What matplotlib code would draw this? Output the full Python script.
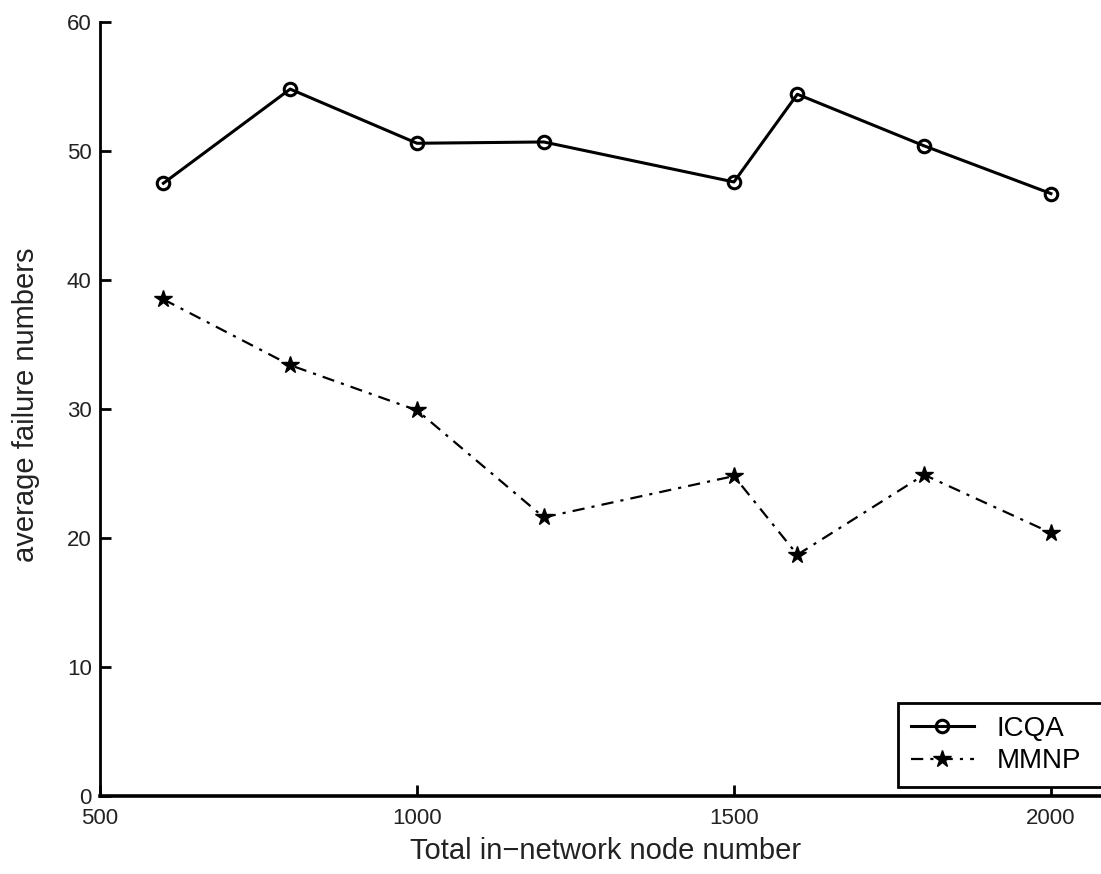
from matplotlib import pyplot as plt

plt.rcParams['font.family'] = ['Liberation Sans', 'DejaVu Sans']

nodes = [600, 800, 1000, 1200, 1500, 1600, 1800, 2000]
icqa = [47.5, 54.8, 50.6, 50.7, 47.6, 54.4, 50.4, 46.7]
mmnp = [38.5, 33.4, 29.9, 21.6, 24.8, 18.7, 24.9, 20.4]

xticks = [500, 1000, 1500, 2000]
yticks = [0, 10, 20, 30, 40, 50, 60]

W, H = 1101, 874
fig = plt.figure(figsize=(W / 100, H / 100), dpi=100)
ax = fig.add_axes([100 / W, 78 / H, 1001 / W, 774 / H])

ax.plot(nodes, icqa, color='black', linewidth=2.2, marker='o', markersize=9,
        markerfacecolor='none', markeredgewidth=2.2, label='ICQA')
ax.plot(nodes, mmnp, color='black', linewidth=1.6, dashes=(5.5, 3.2, 1.4, 3.2),
        marker='*', markersize=13, markerfacecolor='black', label='MMNP')

ax.set_xlim(500, 2079)
ax.set_ylim(0, 60)
ax.set_xticks(xticks)
ax.set_yticks(yticks)
ax.tick_params(direction='in', length=8, width=2, labelsize=16, labelcolor='#222222')
ax.tick_params(axis='x', pad=9)
ax.tick_params(axis='y', pad=6)

ax.spines['right'].set_visible(False)
ax.spines['top'].set_visible(False)
ax.spines['left'].set_linewidth(2.0)
ax.spines['bottom'].set_linewidth(2.6)

fig.text(606 / W, 1 - 851 / H, 'Total in\u2212network node number', fontsize=21,
         ha='center', va='center', color='#222222')
fig.text(26 / W, 1 - 405 / H, 'average failure numbers', fontsize=21,
         ha='center', va='center', rotation=90, color='#222222')

leg = ax.legend(loc='lower left', bbox_to_anchor=(898 / W, 87 / H, 0.2, 81 / H),
                bbox_transform=fig.transFigure, mode='expand', fontsize=20,
                fancybox=False, framealpha=1, edgecolor='black', borderpad=0.45,
                handlelength=2.3, handletextpad=0.8, labelspacing=0.25, borderaxespad=0)
leg.get_frame().set_linewidth(2.0)

fig.savefig('out.png', dpi=100)
